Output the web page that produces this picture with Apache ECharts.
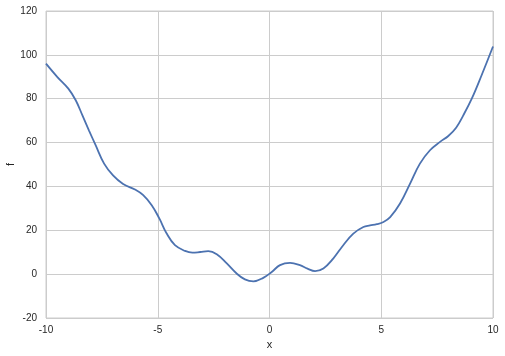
<!DOCTYPE html>
<html>
<head>
<meta charset="utf-8">
<script src="https://cdn.jsdelivr.net/npm/echarts@6/dist/echarts.min.js"></script>
<style>html,body{margin:0;padding:0;background:#fff}#c{width:505px;height:356px}</style>
</head>
<body>
<div id="c"></div>
<script>
const xValues = [-10,-9.5,-9,-8.67,-8.37,-8.08,-7.78,-7.4,-7.0,-6.55,-6.02,-5.65,-5.27,-4.93,-4.6,-4.23,-3.78,-3.45,-3.1,-2.74,-2.36,-1.91,-1.47,-1.1,-0.72,-0.28,0.1,0.47,0.92,1.36,1.7,2.04,2.41,2.85,3.3,3.75,4.2,4.5,4.8,5.1,5.4,5.84,6.29,6.73,7.18,7.63,8.0,8.35,8.67,9.05,9.49,10];
const fValues = [96,90,84.6,79.3,72.4,65.6,58.8,50.4,45.0,41.1,38.6,36.0,31.4,25.4,18.5,13.2,10.6,9.8,10.1,10.5,9.1,4.9,0.3,-2.4,-3.3,-1.7,1.0,4.1,5.1,4.1,2.5,1.4,2.6,7.1,13.2,18.5,21.5,22.2,22.8,23.8,26.0,32.2,41.3,50.4,56.5,60.3,63.0,66.8,72.4,80.0,90.7,103.8];
const xTicks = {min:-10, max:10, interval:5};
const yTicks = {min:-20, max:120, interval:20};

const chart = echarts.init(document.getElementById('c'), null, {renderer:'canvas'});
const labelStyle = {color:'#262626', fontSize:10, fontFamily:'Liberation Sans, Arial, sans-serif'};
chart.setOption({
  animation:false,
  backgroundColor:'#ffffff',
  grid:{left:46, right:12, top:11, bottom:38, containLabel:false, outerBoundsMode:'none',
    show:true, borderColor:'#cccccc', borderWidth:1, backgroundColor:'#ffffff'},
  xAxis:{type:'value', min:xTicks.min, max:xTicks.max, interval:xTicks.interval,
    name:'x', nameLocation:'middle', nameGap:21, nameMoveOverlap:false, nameTextStyle:{...labelStyle, fontSize:11},
    axisLine:{show:false}, axisTick:{show:false},
    axisLabel:{...labelStyle, margin:7},
    splitLine:{show:true, lineStyle:{color:'#cccccc', width:1}}},
  yAxis:{type:'value', min:yTicks.min, max:yTicks.max, interval:yTicks.interval,
    name:'f', nameLocation:'middle', nameGap:30, nameMoveOverlap:false, nameTextStyle:{...labelStyle, fontSize:11},
    axisLine:{show:false}, axisTick:{show:false},
    axisLabel:{...labelStyle, margin:9},
    splitLine:{show:true, lineStyle:{color:'#cccccc', width:1}}},
  series:[{type:'line', data:xValues.map((x,i)=>[x,fValues[i]]), smooth:0.4, showSymbol:false,
    lineStyle:{color:'#4c72b0', width:1.8}, itemStyle:{color:'#4c72b0'}}]
});
</script>
</body>
</html>
